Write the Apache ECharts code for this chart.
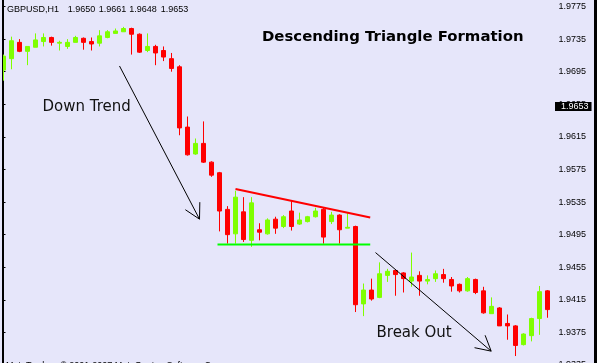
<!DOCTYPE html>
<html><head><meta charset="utf-8">
<script src="https://cdn.jsdelivr.net/npm/echarts/dist/echarts.min.js"></script>
<style>html,body{margin:0;padding:0;background:#E6E6FA;overflow:hidden}#c{width:597px;height:363px}</style>
</head><body><div id="c"></div>
<script>
// ---- data (price values) ----
const symbolLabel = 'GBPUSD,H1';
const headerQuote = ['1.9650', '1.9661', '1.9648', '1.9653'];
const currentPrice = 1.9653;
// [open, close, low, high]
const candles = [
  [1.9697, 1.9714, 1.9684, 1.9716],
  [1.9711, 1.9733, 1.9698, 1.9738],
  [1.9731, 1.9720, 1.9719, 1.9735],
  [1.9720, 1.9726, 1.9703, 1.9726],
  [1.9725, 1.9734, 1.9725, 1.9742],
  [1.9732, 1.9737, 1.9726, 1.9742],
  [1.9737, 1.9731, 1.9727, 1.9738],
  [1.9730, 1.9731, 1.9721, 1.9733],
  [1.9726, 1.9731, 1.9723, 1.9735],
  [1.9731, 1.9737, 1.9731, 1.9739],
  [1.9736, 1.9731, 1.9722, 1.9737],
  [1.9732, 1.9729, 1.9721, 1.9737],
  [1.9730, 1.9739, 1.9726, 1.9746],
  [1.9737, 1.9744, 1.9736, 1.9746],
  [1.9742, 1.9745, 1.9742, 1.9748],
  [1.9744, 1.9748, 1.9744, 1.9750],
  [1.9748, 1.9741, 1.9716, 1.9749],
  [1.9741, 1.9719, 1.9718, 1.9742],
  [1.9721, 1.9726, 1.9719, 1.9742],
  [1.9726, 1.9718, 1.9703, 1.9728],
  [1.9721, 1.9713, 1.9708, 1.9726],
  [1.9711, 1.9699, 1.9695, 1.9718],
  [1.9701, 1.9626, 1.9617, 1.9703],
  [1.9627, 1.9593, 1.9592, 1.9640],
  [1.9594, 1.9607, 1.9593, 1.9613],
  [1.9607, 1.9584, 1.9583, 1.9634],
  [1.9584, 1.9568, 1.9566, 1.9585],
  [1.9571, 1.9524, 1.9499, 1.9572],
  [1.9526, 1.9495, 1.9484, 1.9530],
  [1.9496, 1.9541, 1.9484, 1.9549],
  [1.9523, 1.9489, 1.9486, 1.9541],
  [1.9488, 1.9534, 1.9480, 1.9541],
  [1.9501, 1.9498, 1.9488, 1.9509],
  [1.9496, 1.9513, 1.9495, 1.9515],
  [1.9514, 1.9503, 1.9496, 1.9517],
  [1.9505, 1.9517, 1.9503, 1.9519],
  [1.9524, 1.9505, 1.9500, 1.9537],
  [1.9508, 1.9513, 1.9507, 1.9522],
  [1.9511, 1.9517, 1.9510, 1.9518],
  [1.9517, 1.9524, 1.9516, 1.9528],
  [1.9526, 1.9492, 1.9484, 1.9528],
  [1.9511, 1.9519, 1.9508, 1.9523],
  [1.9519, 1.9501, 1.9484, 1.9520],
  [1.9503, 1.9504, 1.9503, 1.9522],
  [1.9505, 1.9409, 1.9400, 1.9506],
  [1.9410, 1.9427, 1.9395, 1.9435],
  [1.9427, 1.9416, 1.9414, 1.9441],
  [1.9418, 1.9447, 1.9417, 1.9461],
  [1.9445, 1.9450, 1.9437, 1.9453],
  [1.9451, 1.9446, 1.9420, 1.9452],
  [1.9448, 1.9441, 1.9424, 1.9449],
  [1.9438, 1.9443, 1.9431, 1.9473],
  [1.9445, 1.9438, 1.9420, 1.9450],
  [1.9438, 1.9440, 1.9434, 1.9445],
  [1.9441, 1.9447, 1.9437, 1.9451],
  [1.9446, 1.9441, 1.9436, 1.9453],
  [1.9440, 1.9432, 1.9425, 1.9443],
  [1.9434, 1.9426, 1.9424, 1.9435],
  [1.9426, 1.9441, 1.9425, 1.9443],
  [1.9440, 1.9424, 1.9422, 1.9441],
  [1.9426, 1.9399, 1.9398, 1.9431],
  [1.9398, 1.9407, 1.9398, 1.9418],
  [1.9405, 1.9383, 1.9383, 1.9406],
  [1.9386, 1.9383, 1.9366, 1.9397],
  [1.9383, 1.9359, 1.9346, 1.9384],
  [1.9360, 1.9373, 1.9359, 1.9374],
  [1.9371, 1.9392, 1.9364, 1.9393],
  [1.9392, 1.9425, 1.9372, 1.9432],
  [1.9426, 1.9403, 1.9393, 1.9427]
];
const categories = candles.map((_, i) => String(i));
// y-axis ticks
const yMin = 1.9335, yMax = 1.9783, yStep = 0.004;
// annotations in data space: [barIndex1, price1, barIndex2, price2]
const resistanceLine = [[29.0, 1.9551, 45.84, 1.9516]];
const supportLine = [[26.75, 1.9483, 45.84, 1.9483]];
const trendArrows = [[14.5, 1.9702, 24.5, 1.9514], [46.5, 1.9473, 60.96, 1.9352]];
const titleText = 'Descending Triangle Formation';
const downText = 'Down Trend';
const breakText = 'Break Out';
const footerText = 'MetaTrader - \u00a9 2001-2007 MetaQuotes Software Corp.';

// ---- chart ----
const chart = echarts.init(document.getElementById('c'), null, {renderer: 'canvas'});
const N = candles.length;
const BG = '#E6E6FA';
const BULL = '#7FFF00', BEAR = '#FF0000';
const numFont = '9px "Liberation Sans", Arial, sans-serif';

function segmentRenderer(color, width, arrow) {
  return function (params, api) {
    const a = api.coord([api.value(0), api.value(1)]);
    const b = api.coord([api.value(2), api.value(3)]);
    const children = [{type: 'line', shape: {x1: a[0], y1: a[1], x2: b[0], y2: b[1]}, style: {stroke: color, lineWidth: width}}];
    if (arrow) {
      const ang = Math.atan2(a[1] - b[1], a[0] - b[0]);
      const L = 17, s = 0.5;
      [-s, s].forEach(d => children.push({type: 'line', shape: {x1: b[0], y1: b[1], x2: b[0] + L * Math.cos(ang + d), y2: b[1] + L * Math.sin(ang + d)}, style: {stroke: color, lineWidth: width}}));
    }
    return {type: 'group', children};
  };
}
function segSeries(data, color, width, arrow) {
  return {type: 'custom', xAxisIndex: 1, yAxisIndex: 0, silent: true, z: 5,
    encode: {x: [0, 2], y: [1, 3]}, data, renderItem: segmentRenderer(color, width, arrow)};
}

const textStyle = (x, y, text, font, color) => ({type: 'text', x, y, z: 100,
  style: {text, font, fill: color, textVerticalAlign: 'middle'}});

const quoteX = [67.7, 98.7, 129.3, 160.7];

const option = {
  backgroundColor: BG,
  animation: false,
  grid: {left: -0.5, top: 0, width: 552, height: 365, containLabel: false, outerBoundsMode: 'none'},
  xAxis: [
    {type: 'category', data: categories, show: false, boundaryGap: true},
    {type: 'value', min: -0.5, max: N - 0.5, show: false}
  ],
  yAxis: {
    type: 'value', position: 'right', offset: 3, min: yMin, max: yMax, interval: yStep,
    axisLine: {show: true, lineStyle: {color: '#000', width: 1}},
    axisTick: {show: true, length: 2, lineStyle: {color: '#000'}},
    axisLabel: {margin: 4, color: '#000', fontFamily: '"Liberation Sans", Arial', fontSize: 9,
      formatter: v => v.toFixed(4), showMaxLabel: false, showMinLabel: true},
    splitLine: {show: false}
  },
  series: [
    {
      type: 'candlestick', xAxisIndex: 0, yAxisIndex: 0, data: candles, barWidth: 4,
      itemStyle: {color: BULL, color0: BEAR, borderColor: BULL, borderColor0: BEAR, borderWidth: 1}
    },
    segSeries(supportLine, '#00FF00', 2, false),
    segSeries(resistanceLine, '#FF0000', 2, false),
    segSeries(trendArrows, '#000000', 1, true),
    {
      type: 'custom', xAxisIndex: 1, yAxisIndex: 0, silent: true, z: 10, clip: false,
      data: [[N - 0.5, currentPrice]], encode: {x: 0, y: 1},
      renderItem: function (params, api) {
        const p = api.coord([api.value(0), api.value(1)]);
        return {type: 'text', x: p[0] + 3.5, y: p[1] + 0.5, z2: 10,
          style: {text: currentPrice.toFixed(4), font: numFont, fill: '#fff', backgroundColor: '#000',
            padding: [0, 3, 0, 6], lineHeight: 9, verticalAlign: 'middle', align: 'left'}};
      }
    }
  ],
  graphic: [
    {type: 'rect', z: 99, shape: {x: 0, y: 0, width: 2, height: 363}, style: {fill: BG}},
    {type: 'rect', z: 100, shape: {x: 2, y: 0, width: 1, height: 363}, style: {fill: '#000'}},
    {type: 'rect', z: 100, shape: {x: 594, y: 0, width: 3, height: 363}, style: {fill: '#000'}},
    textStyle(7, 10, symbolLabel, numFont, '#000'),
    ...headerQuote.map((q, i) => textStyle(quoteX[i], 10, q, numFont, '#000')),
    textStyle(262, 37.5, titleText, 'bold 14.9px "DejaVu Sans", Verdana, sans-serif', '#000'),
    textStyle(42.5, 107, downText, '15px "DejaVu Sans", Verdana, sans-serif', '#111'),
    textStyle(376.5, 333, breakText, '15px "DejaVu Sans", Verdana, sans-serif', '#111'),
    textStyle(6, 366, footerText, numFont, '#000')
  ]
};
chart.setOption(option);
</script></body></html>
